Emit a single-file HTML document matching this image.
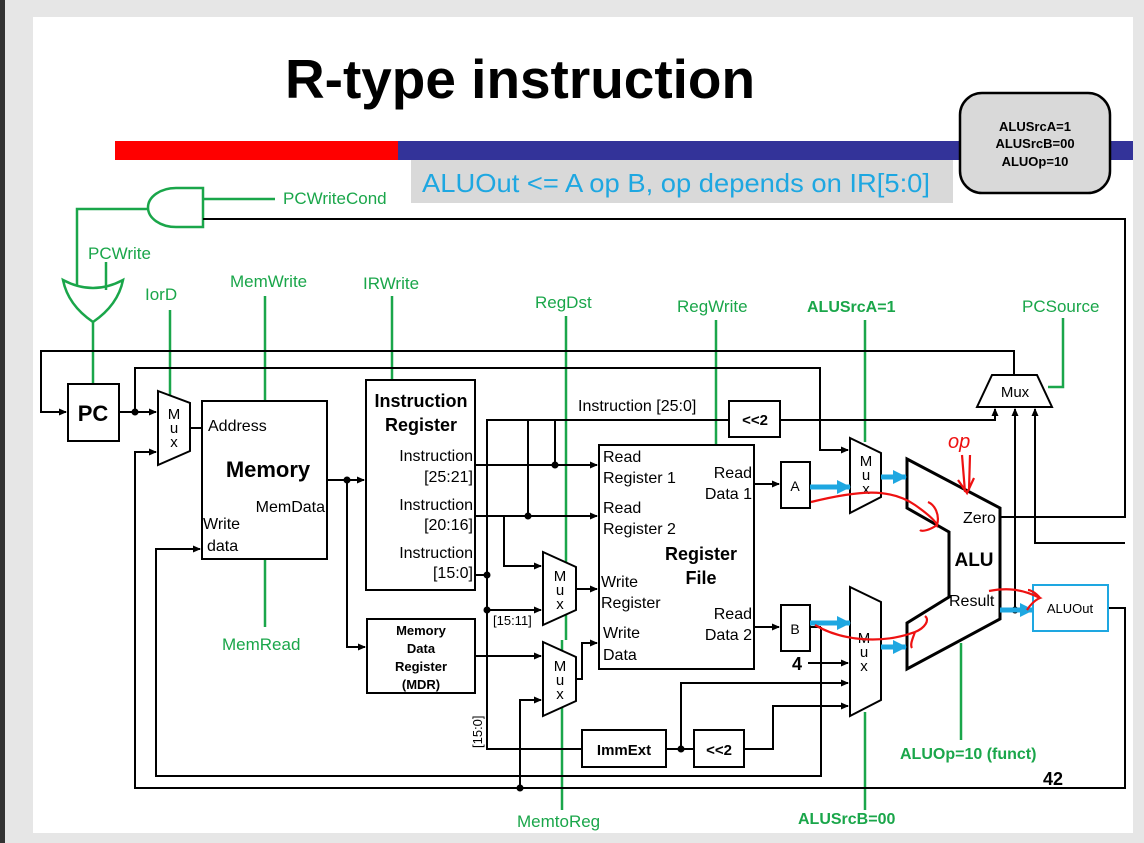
<!DOCTYPE html>
<html><head><meta charset="utf-8"><style>
html,body{margin:0;padding:0;width:1144px;height:843px;overflow:hidden;background:#e6e6e6}
svg{display:block}
text{font-family:"Liberation Sans",Arial,sans-serif}
</style></head><body>
<svg width="1144" height="843" viewBox="0 0 1144 843" xmlns="http://www.w3.org/2000/svg">
<defs>
<marker id="ar" markerWidth="8" markerHeight="8" refX="7" refY="4" orient="auto" markerUnits="userSpaceOnUse"><path d="M0,0.5 L8,4 L0,7.5 z" fill="#000"/></marker>
<marker id="ab" markerWidth="14" markerHeight="14" refX="13" refY="7" orient="auto" markerUnits="userSpaceOnUse"><path d="M0,0 L14,7 L0,14 z" fill="#1ea7e1"/></marker>
</defs>
<rect x="0" y="0" width="5" height="843" fill="#333"/>
<rect x="33" y="17" width="1100" height="816" fill="#fff"/>
<text x="285" y="98" font-size="55" font-weight="bold" textLength="470" lengthAdjust="spacingAndGlyphs">R-type instruction</text>
<rect x="115" y="141" width="283" height="19" fill="#f00"/>
<rect x="398" y="141" width="735" height="19" fill="#333399"/>
<rect x="411" y="160" width="542" height="43" fill="#d9d9d9"/>
<text x="422" y="192" font-size="26" fill="#1ea7e1" textLength="508" lengthAdjust="spacingAndGlyphs">ALUOut &lt;= A op B, op depends on IR[5:0]</text>
<rect x="960" y="93" width="150" height="100" rx="22" fill="#d9d9d9" stroke="#000" stroke-width="2.5"/>
<g font-size="13" font-weight="bold" text-anchor="middle"><text x="1035" y="131">ALUSrcA=1</text><text x="1035" y="148">ALUSrcB=00</text><text x="1035" y="166">ALUOp=10</text></g>

<g stroke="#1aa64a" stroke-width="2.5" fill="none">
<path d="M203,188 L203,227 L176,227 A28,19.5 0 0 1 176,188 Z"/>
<line x1="203" y1="199" x2="275" y2="199"/>
<polyline points="148,209 77,209 77,285"/>
<line x1="106" y1="262" x2="106" y2="290"/>
<path d="M63,280 Q93,296 123,280 Q118,305 93,322 Q68,305 63,280 Z"/>
<line x1="93" y1="322" x2="93" y2="384"/>
<line x1="170" y1="310" x2="170" y2="398"/>
<line x1="265" y1="296" x2="265" y2="401"/>
<line x1="392" y1="296" x2="392" y2="380"/>
<line x1="566" y1="316" x2="566" y2="640"/>
<line x1="562" y1="640" x2="562" y2="810"/>
<line x1="716" y1="320" x2="716" y2="445"/>
<line x1="865" y1="320" x2="865" y2="442"/>
<line x1="865" y1="712" x2="865" y2="810"/>
<line x1="265" y1="559" x2="265" y2="627"/>
<polyline points="1048,387 1063,387 1063,318"/>
<line x1="961" y1="643" x2="961" y2="740"/>
</g>
<g fill="#1aa64a" font-size="17">
<text x="283" y="204">PCWriteCond</text>
<text x="88" y="259">PCWrite</text>
<text x="145" y="300">IorD</text>
<text x="230" y="287">MemWrite</text>
<text x="363" y="289">IRWrite</text>
<text x="535" y="308">RegDst</text>
<text x="677" y="312">RegWrite</text>
<text x="807" y="312" font-weight="bold" font-size="16">ALUSrcA=1</text>
<text x="1022" y="312">PCSource</text>
<text x="222" y="650">MemRead</text>
<text x="517" y="827">MemtoReg</text>
<text x="798" y="824" font-weight="bold" font-size="16">ALUSrcB=00</text>
<text x="900" y="759" font-weight="bold" font-size="16">ALUOp=10 (funct)</text>
</g>

<g stroke="#000" stroke-width="2" fill="none">
<polyline points="203,219 1125,219 1125,517 1000,517"/>
<polyline points="1014,375 1014,351 41,351 41,412 66,412" marker-end="url(#ar)"/>
<polyline points="135,412 135,368 820,368 820,450 848,450" marker-end="url(#ar)"/>
<line x1="119" y1="412" x2="156" y2="412" marker-end="url(#ar)"/>
<polyline points="1108,608 1125,608 1125,788 135,788 135,452 156,452" marker-end="url(#ar)"/>
<polyline points="1125,543 1035,543 1035,409" marker-end="url(#ar)"/>
<polyline points="1015,610 1015,409" marker-end="url(#ar)"/>
<polyline points="780,420 995,420 995,409" marker-end="url(#ar)"/>
<line x1="190" y1="428" x2="202" y2="428"/>
<line x1="327" y1="480" x2="364" y2="480" marker-end="url(#ar)"/>
<polyline points="347,480 347,647 365,647" marker-end="url(#ar)"/>
<polyline points="821,627 821,776 156,776 156,549 200,549" marker-end="url(#ar)"/>
<line x1="810" y1="627" x2="821" y2="627"/>
<line x1="475" y1="465" x2="597" y2="465" marker-end="url(#ar)"/>
<line x1="475" y1="516" x2="597" y2="516" marker-end="url(#ar)"/>
<polyline points="504,516 504,566 541,566" marker-end="url(#ar)"/>
<line x1="475" y1="575" x2="487" y2="575"/>
<polyline points="729,420 487,420 487,749 582,749"/>
<line x1="555" y1="420" x2="555" y2="465"/>
<line x1="528" y1="420" x2="528" y2="516"/>
<line x1="487" y1="610" x2="541" y2="610" marker-end="url(#ar)"/>
<line x1="475" y1="656" x2="541" y2="656" marker-end="url(#ar)"/>
<polyline points="520,788 520,700 541,700" marker-end="url(#ar)"/>
<line x1="576" y1="589" x2="597" y2="589" marker-end="url(#ar)"/>
<polyline points="576,679 582,679 582,643 597,643" marker-end="url(#ar)"/>
<line x1="754" y1="484" x2="779" y2="484" marker-end="url(#ar)"/>
<line x1="754" y1="627" x2="779" y2="627" marker-end="url(#ar)"/>
<line x1="808" y1="663" x2="848" y2="663" marker-end="url(#ar)"/>
<polyline points="681,749 681,683 848,683" marker-end="url(#ar)"/>
<polyline points="744,749 773,749 773,706 848,706" marker-end="url(#ar)"/>
<line x1="666" y1="749" x2="694" y2="749"/>
</g>
<g fill="#000">
<circle cx="135" cy="412" r="3.5"/><circle cx="347" cy="480" r="3.5"/><circle cx="555" cy="465" r="3.5"/>
<circle cx="528" cy="516" r="3.5"/><circle cx="487" cy="575" r="3.5"/><circle cx="487" cy="610" r="3.5"/>
<circle cx="520" cy="788" r="3.5"/><circle cx="681" cy="749" r="3.5"/><circle cx="1015" cy="610" r="3.5"/>
</g>

<g stroke="#000" stroke-width="2" fill="#fff">
<rect x="68" y="384" width="51" height="57"/>
<polygon points="158,391 190,403 190,451 158,465"/>
<rect x="202" y="401" width="125" height="158"/>
<rect x="366" y="380" width="109" height="210"/>
<rect x="367" y="619" width="108" height="74"/>
<polygon points="543,552 576,567 576,610 543,625"/>
<polygon points="543,642 576,657 576,701 543,716"/>
<rect x="599" y="445" width="155" height="224"/>
<rect x="781" y="462" width="29" height="46"/>
<rect x="781" y="605" width="29" height="46"/>
<polygon points="850,438 881,453 881,497 850,513"/>
<polygon points="850,587 881,602 881,700 850,716"/>
<rect x="729" y="401" width="51" height="36"/>
<rect x="582" y="730" width="84" height="37"/>
<rect x="694" y="730" width="50" height="37"/>
<polygon points="992,375 1037,375 1052,407 977,407"/>
<polygon points="907,459 1000,508 1000,619 907,669 907,623 949,597 949,532 907,508" stroke-width="3"/>
<rect x="1033" y="585" width="75" height="46" stroke="#1ea7e1"/>
</g>
<g font-size="16">
<text x="93" y="421" font-size="22" font-weight="bold" text-anchor="middle">PC</text>
<g text-anchor="middle" font-size="15"><text x="174" y="419">M</text><text x="174" y="433">u</text><text x="174" y="447">x</text>
<text x="560" y="581">M</text><text x="560" y="595">u</text><text x="560" y="609">x</text>
<text x="560" y="671">M</text><text x="560" y="685">u</text><text x="560" y="699">x</text>
<text x="866" y="466">M</text><text x="866" y="480">u</text><text x="866" y="494">x</text>
<text x="864" y="643">M</text><text x="864" y="657">u</text><text x="864" y="671">x</text></g>
<text x="208" y="431">Address</text>
<text x="268" y="477" font-size="22" font-weight="bold" text-anchor="middle">Memory</text>
<text x="325" y="512" text-anchor="end">MemData</text>
<text x="203" y="529">Write</text><text x="207" y="551">data</text>
<g font-size="18" font-weight="bold" text-anchor="middle"><text x="421" y="407">Instruction</text><text x="421" y="431">Register</text></g>
<g text-anchor="end"><text x="473" y="461">Instruction</text><text x="473" y="482">[25:21]</text>
<text x="473" y="510">Instruction</text><text x="473" y="530">[20:16]</text>
<text x="473" y="558">Instruction</text><text x="473" y="578">[15:0]</text></g>
<g font-size="13" font-weight="bold" text-anchor="middle"><text x="421" y="635">Memory</text><text x="421" y="653">Data</text><text x="421" y="671">Register</text><text x="421" y="689">(MDR)</text></g>
<text x="493" y="625" font-size="13">[15:11]</text>
<text transform="translate(482,748) rotate(-90)" font-size="13">[15:0]</text>
<text x="578" y="411">Instruction [25:0]</text>
<text x="603" y="462">Read</text><text x="603" y="483">Register 1</text>
<text x="603" y="513">Read</text><text x="603" y="534">Register 2</text>
<text x="601" y="587">Write</text><text x="601" y="608">Register</text>
<text x="603" y="638">Write</text><text x="603" y="660">Data</text>
<g text-anchor="end"><text x="752" y="478">Read</text><text x="752" y="499">Data 1</text><text x="752" y="619">Read</text><text x="752" y="640">Data 2</text></g>
<g font-size="18" font-weight="bold" text-anchor="middle"><text x="701" y="560">Register</text><text x="701" y="584">File</text></g>
<text x="795" y="491" font-size="14" text-anchor="middle">A</text>
<text x="795" y="634" font-size="14" text-anchor="middle">B</text>
<text x="797" y="670" font-size="18" font-weight="bold" text-anchor="middle">4</text>
<text x="755" y="425" font-size="15" font-weight="bold" text-anchor="middle">&lt;&lt;2</text>
<text x="624" y="755" font-size="15" font-weight="bold" text-anchor="middle">ImmExt</text>
<text x="719" y="755" font-size="15" font-weight="bold" text-anchor="middle">&lt;&lt;2</text>
<text x="1015" y="397" font-size="15" text-anchor="middle">Mux</text>
<text x="963" y="523">Zero</text>
<text x="974" y="566" font-size="19" font-weight="bold" text-anchor="middle">ALU</text>
<text x="949" y="606">Result</text>
<text x="1070" y="613" font-size="13" text-anchor="middle">ALUOut</text>
<text x="1043" y="785" font-size="18" font-weight="bold">42</text>
</g>
<g stroke="#1ea7e1" stroke-width="5">
<line x1="810" y1="487" x2="850" y2="487" marker-end="url(#ab)"/>
<line x1="881" y1="477" x2="906" y2="477" marker-end="url(#ab)"/>
<line x1="810" y1="623" x2="850" y2="623" marker-end="url(#ab)"/>
<line x1="881" y1="647" x2="906" y2="647" marker-end="url(#ab)"/>
<line x1="1000" y1="610" x2="1033" y2="610" marker-end="url(#ab)"/>
</g>
<g stroke="#e11" stroke-width="2.2" fill="none">
<text x="948" y="448" font-size="20" fill="#e11" stroke="none" font-style="italic">op</text>
<path d="M962,455 L965,492 M970,455 L969,490 M958,480 L967,493 L974,478"/>
<path d="M811,502 C860,490 890,488 915,505 C925,512 935,520 937,525 C940,515 935,505 928,502 M937,525 C930,530 922,532 920,530"/>
<path d="M815,625 C840,640 880,645 915,632 C925,628 930,620 925,616 M915,632 C912,640 910,645 912,648"/>
<path d="M989,591 C1005,588 1020,588 1040,598 C1035,600 1030,605 1027,610 M1040,598 C1035,592 1030,590 1028,590"/>
</g>
</svg>
</body></html>
